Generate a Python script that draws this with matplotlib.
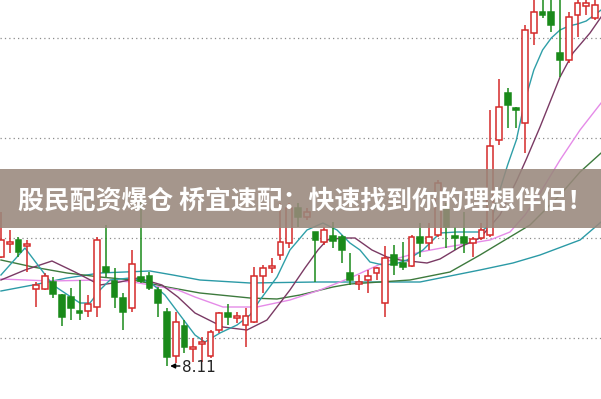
import matplotlib
matplotlib.use("Agg")
import matplotlib.pyplot as plt
from matplotlib.patches import Rectangle

# daily candles (price)
opens = [9.20, 9.33, 9.37, 9.31, 8.88, 8.88, 8.95, 8.82, 8.80, 8.66,
         8.66, 8.70, 9.10, 8.96, 8.79, 8.69, 9.00, 9.01, 8.87, 8.65,
         8.21, 8.51, 8.28, 8.33, 8.21, 8.47, 8.64, 8.59, 8.52, 8.55,
         9.01, 9.09, 9.22, 9.34, 9.69, 9.60, 9.45, 9.35, 9.41, 9.40,
         9.04, 8.93, 8.97, 9.04, 8.74, 9.22, 9.14, 9.11, 9.40, 9.34,
         9.42, 9.70, 9.41, 9.40, 9.34, 9.39, 9.42, 10.37, 10.84, 10.69,
         10.54, 11.44, 11.65, 11.65, 11.24, 11.17, 11.62, 11.71, 11.59]
highs = [9.65, 9.47, 9.40, 9.37, 8.95, 9.04, 9.00, 8.83, 8.89, 8.97,
         8.82, 9.40, 9.52, 9.09, 8.84, 9.27, 9.82, 9.05, 8.90, 8.69,
         8.65, 8.57, 8.39, 8.40, 8.47, 8.65, 8.73, 8.65, 8.69, 9.10,
         9.12, 9.19, 9.74, 9.74, 9.74, 9.69, 9.45, 9.50, 9.55, 9.42,
         9.24, 9.02, 9.07, 9.10, 9.31, 9.32, 9.35, 9.42, 9.54, 9.54,
         9.97, 9.74, 9.50, 9.65, 9.40, 9.54, 10.67, 10.98, 10.89, 10.70,
         11.52, 11.82, 11.82, 11.82, 11.82, 11.65, 11.82, 11.82, 11.82]
lows = [9.19, 9.24, 9.20, 9.05, 8.70, 8.87, 8.79, 8.51, 8.57, 8.57,
        8.60, 8.60, 9.00, 8.69, 8.47, 8.65, 8.94, 8.87, 8.60, 8.11,
        8.14, 8.24, 8.15, 8.15, 8.19, 8.44, 8.52, 8.54, 8.30, 8.54,
        8.84, 9.04, 9.17, 9.29, 9.50, 9.57, 8.95, 9.32, 9.29, 9.14,
        8.92, 8.87, 8.84, 8.97, 8.60, 9.02, 9.07, 9.10, 9.20, 9.27,
        9.40, 9.29, 9.27, 9.24, 9.20, 9.37, 9.40, 10.32, 10.49, 10.49,
        10.24, 11.32, 11.59, 11.45, 11.00, 11.14, 11.40, 11.62, 11.57]
closes = [9.37, 9.35, 9.25, 9.33, 8.92, 9.01, 8.83, 8.60, 8.69, 8.64,
          8.73, 9.37, 9.05, 8.80, 8.65, 9.13, 8.96, 8.89, 8.74, 8.20,
          8.55, 8.30, 8.30, 8.35, 8.45, 8.64, 8.60, 8.61, 8.61, 9.01,
          9.09, 9.11, 9.35, 9.69, 9.60, 9.65, 9.37, 9.47, 9.36, 9.27,
          8.97, 8.95, 9.01, 9.09, 9.19, 9.12, 9.10, 9.40, 9.34, 9.40,
          9.94, 9.50, 9.39, 9.34, 9.38, 9.47, 10.31, 10.70, 10.72, 10.67,
          11.47, 11.65, 11.62, 11.52, 11.17, 11.60, 11.74, 11.74, 11.72]

# moving average lines (x = candle position)
ma5_x = [0, 2.75, 5.95, 9.04, 10.19, 11.33, 12.48, 14.77, 17.06, 18.77,
         20.49, 22.21, 23.35, 25.07, 27.02, 28.51, 29.65, 31.6, 33.08, 35.03,
         36.86, 38.47, 39.95, 41.1, 42.24, 43.73, 45.11, 46.48, 48.31, 50.26,
         52.2, 54.84, 56, 57, 58, 59, 60, 61, 62, 63, 64, 65, 66, 67, 68.7]
ma5_y = [9.02, 9.29, 8.92, 8.74, 8.74, 8.87, 8.97, 8.99, 8.95, 8.82,
         8.62, 8.42, 8.35, 8.44, 8.52, 8.62, 8.77, 9.00, 9.27, 9.47,
         9.54, 9.47, 9.34, 9.27, 9.15, 9.12, 9.13, 9.17, 9.27, 9.44,
         9.45, 9.45, 9.52, 9.84, 10.12, 10.37, 10.77, 11.07, 11.27, 11.39,
         11.47, 11.51, 11.53, 11.56, 11.67]
ma10_x = [0, 2.75, 5.84, 8.47, 11.33, 13.62, 15.68, 18.43, 20.26, 22.21,
          25.41, 28.16, 30.45, 33.08, 34.8, 36.29, 37.32, 39.04, 40.53, 42.47,
          44.19, 45.68, 48.77, 50.26, 52.55, 54.84, 57.12, 59.07, 60.1, 61.71,
          64, 65.48, 67.43, 68.7]
ma10_y = [8.97, 9.07, 9.16, 9.05, 8.92, 8.95, 8.99, 8.92, 8.80, 8.64,
          8.50, 8.47, 8.57, 8.87, 9.09, 9.27, 9.37, 9.39, 9.39, 9.27,
          9.20, 9.17, 9.14, 9.18, 9.30, 9.39, 9.62, 9.97, 10.17, 10.50,
          11.00, 11.24, 11.44, 11.60]
ma20_x = [0, 5.61, 11.33, 15.11, 17.06, 20.26, 22.21, 25.41, 29.31, 33.08,
          36.52, 39.95, 43.96, 47.97, 51.06, 55.98, 58.27, 59.99, 61.71, 64,
          66.29, 68.7]
ma20_y = [8.98, 8.96, 8.97, 8.95, 8.92, 8.87, 8.80, 8.70, 8.70, 8.77,
          8.87, 8.99, 9.15, 9.25, 9.30, 9.37, 9.45, 9.62, 9.84, 10.17,
          10.47, 10.74]
ma30_x = [0, 3.66, 7.56, 11.33, 15.11, 19.0, 22.78, 28.51, 31.6, 34.23,
          38.01, 39.95, 43.39, 46.82, 51.4, 54.84, 57.12, 60.56, 64, 66.29,
          68.7]
ma30_y = [9.17, 9.10, 9.04, 9.00, 8.97, 8.90, 8.84, 8.79, 8.78, 8.82,
          8.90, 8.93, 8.95, 8.97, 9.05, 9.22, 9.34, 9.52, 9.82, 10.05,
          10.24]
ma60_x = [0, 3.66, 7.56, 11.33, 17.06, 19.69, 22.78, 28.51, 36.18, 47.97,
          50.26, 54.84, 58.61, 61.71, 66.29, 68.7]
ma60_y = [8.86, 8.92, 8.99, 9.04, 9.06, 9.02, 8.97, 8.94, 8.95, 8.95,
          8.99, 9.07, 9.14, 9.22, 9.37, 9.55]

grid_levels = [8.39, 9.39, 10.39, 11.39]
low_value = 8.11
low_index = 19
banner_text = "股民配资爆仓 桥宜速配：快速找到你的理想伴侣！"

up_color = '#d42a2a'
down_color = '#1a8a1a'

fig = plt.figure(figsize=(6.01, 3.99), dpi=100)
ax = fig.add_axes([0, 0, 1, 1])
ax.set_xlim(-0.11, 68.69)
ax.set_ylim(7.78, 11.77)
ax.axis('off')

for g in grid_levels:
    ax.axhline(g, color='#8c8c8c', lw=0.9, ls=(0, (1, 2.5)), zorder=0)

ax.plot(ma60_x, ma60_y, color='#2b9aa6', lw=1.0, zorder=1)
ax.plot(ma30_x, ma30_y, color='#3d7a3d', lw=1.0, zorder=1)
ax.plot(ma20_x, ma20_y, color='#e58be8', lw=1.0, zorder=1)
ax.plot(ma10_x, ma10_y, color='#7a3a64', lw=1.0, zorder=1)
ax.plot(ma5_x, ma5_y, color='#2f9fa8', lw=1.0, zorder=1)

w = 0.66
for i in range(len(opens)):
    o, h, l, c = opens[i], highs[i], lows[i], closes[i]
    up = c >= o
    col = up_color if up else down_color
    lo_b, hi_b = min(o, c), max(o, c)
    ax.vlines(i, l, lo_b, color=col, lw=1.1, zorder=2)
    ax.vlines(i, hi_b, h, color=col, lw=1.1, zorder=2)
    ax.add_patch(Rectangle((i - w / 2, lo_b), w, max(hi_b - lo_b, 0.01),
                           facecolor='white' if up else col,
                           edgecolor=col, lw=1.1, zorder=3))

ax.annotate('', xy=(low_index + 0.05, low_value), xytext=(low_index + 1.8, low_value),
            arrowprops=dict(arrowstyle='-|>', color='black', lw=1, mutation_scale=7),
            zorder=4)
ax.text(low_index + 1.75, low_value - 0.01, '%.2f' % low_value, ha='left', va='center',
        fontsize=11, color='#222222', family='DejaVu Sans', zorder=4)

# overlay banner
fig.patches.append(Rectangle((0, 0.4286), 1, 0.1479, transform=fig.transFigure,
                             facecolor=(153 / 255, 136 / 255, 124 / 255), alpha=0.88,
                             edgecolor='none', zorder=5))
fig.text(0.5085, 0.497, banner_text, ha='center', va='center', color='white',
         fontsize=18.6, fontweight='bold', family=['Noto Sans CJK SC', 'DejaVu Sans'],
         zorder=6)

fig.savefig('out.png', dpi=100)
